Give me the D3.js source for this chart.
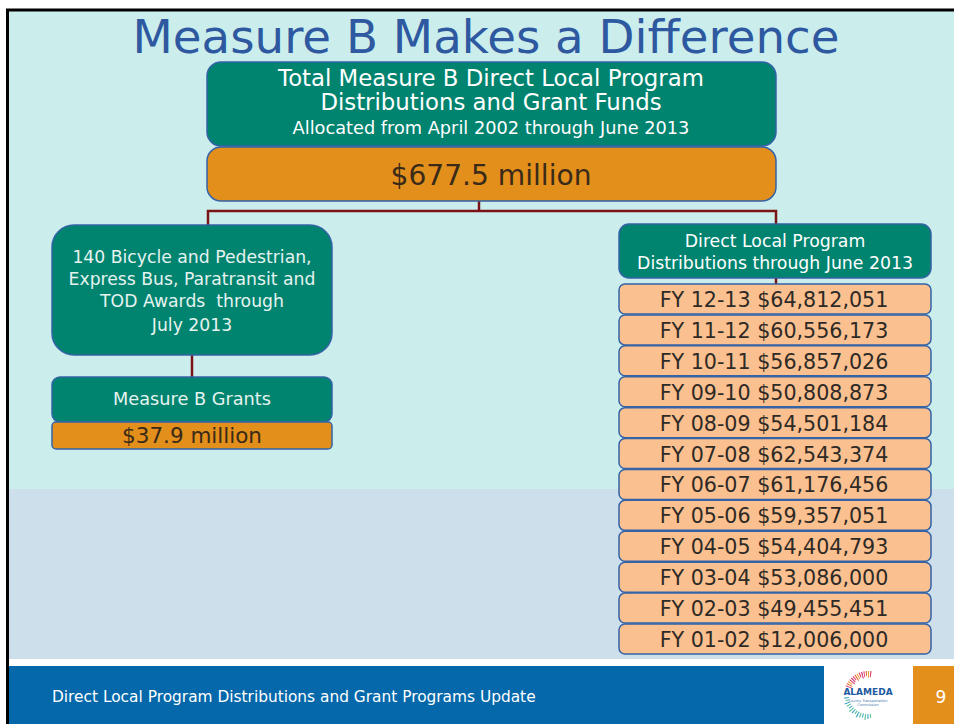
<!DOCTYPE html>
<html>
<head>
<meta charset="utf-8">
<script src="https://cdn.jsdelivr.net/npm/d3@7"></script>
<style>
  body { margin: 0; background: #fff; }
  svg { display: block; font-family: "DejaVu Sans", "Open Sans", sans-serif; }
  text { white-space: pre; }
</style>
</head>
<body>
<div id="chart"></div>
<script>
// Measure B slide: funding tree

const title = "Measure B Makes a Difference";
const topLines = ["Total Measure B Direct Local Program", "Distributions and Grant Funds"];
const topSub = "Allocated from April 2002 through June 2013";
const totalLabel = "$677.5 million";

const grantLines = ["140 Bicycle and Pedestrian,", "Express Bus, Paratransit and", "TOD Awards  through", "July 2013"];
const grantName = "Measure B Grants";
const grantTotal = "$37.9 million";

const distHeader = ["Direct Local Program", "Distributions through June 2013"];
const fiscalYears = ["FY 12-13", "FY 11-12", "FY 10-11", "FY 09-10", "FY 08-09", "FY 07-08",
                     "FY 06-07", "FY 05-06", "FY 04-05", "FY 03-04", "FY 02-03", "FY 01-02"];
const distributions = [64812051, 60556173, 56857026, 50808873, 54501184, 62543374,
                       61176456, 59357051, 54404793, 53086000, 49455451, 12006000];

const footerText = "Direct Local Program Distributions and Grant Programs Update";
const pageNumber = "9";

const width = 954, height = 724;
const teal = "#00836f", orange = "#e38f1c", peach = "#fbc08f", edge = "#3563a6";
const wire = "#7a1416";
const money = d3.format("$,");

const svg = d3.select("#chart").append("svg")
  .attr("width", width)
  .attr("height", height);

// slide background
svg.append("rect").attr("x", 9).attr("y", 11).attr("width", width - 9).attr("height", 478).attr("fill", "#cbeeed");
svg.append("rect").attr("x", 9).attr("y", 489).attr("width", width - 9).attr("height", 170).attr("fill", "#cddfeb");
svg.append("rect").attr("x", 9).attr("y", 659).attr("width", width - 9).attr("height", 7).attr("fill", "#fff");
svg.append("rect").attr("x", 9).attr("y", 666).attr("width", 815).attr("height", 58).attr("fill", "#0468aa");
svg.append("rect").attr("x", 913).attr("y", 666).attr("width", 41).attr("height", 58).attr("fill", orange);
// black frame
svg.append("path")
  .attr("d", "M7.5,724 V10 H954")
  .attr("fill", "none").attr("stroke", "#000").attr("stroke-width", 3);

// scale a group of texts together so the widest spans w
function fit(sel, w) {
  let widest = 0;
  sel.each(function() { widest = Math.max(widest, this.getComputedTextLength()); });
  const k = w / widest;
  sel.attr("font-size", function() { return parseFloat(d3.select(this).attr("font-size")) * k; });
  return sel;
}

function block(g, x, ys, lines, size, color, w) {
  const t = g.selectAll(null)
    .data(lines)
    .join("text")
      .attr("x", x)
      .attr("y", (d, i) => ys[i])
      .attr("text-anchor", "middle")
      .attr("font-size", size)
      .attr("fill", color)
      .text(d => d);
  if (w) fit(t, w);
  return t;
}

function box(x, y, w, h, r, fill) {
  return svg.append("rect")
    .attr("x", x).attr("y", y).attr("width", w).attr("height", h)
    .attr("rx", r).attr("fill", fill)
    .attr("stroke", edge).attr("stroke-width", 1.5);
}

// title
block(svg, 486, [53], [title], 40, "#2e59a0", 707);

// connectors
const lines = svg.append("g").attr("stroke", wire).attr("stroke-width", 2.5).attr("fill", "none");
lines.append("path").attr("d", "M479,200 V211 M208,226 V211 H776 V226");
lines.append("path").attr("d", "M192,354 V378");
lines.append("path").attr("d", "M776,277 V286");

// top box
box(207, 62, 569, 84, 14, teal);
box(207, 147, 569, 54, 14, orange);
block(svg, 491, [86, 110], topLines, 20, "#fff", 426);
block(svg, 491, [134], [topSub], 15, "#fff", 397);
block(svg, 491, [185], [totalLabel], 28, "#3a2a18", 201);

// left branch
box(52, 225, 280, 130, 22, teal);
block(svg, 192, [263, 285, 307, 331], grantLines, 16, "#e6f3ef", 247);
box(52, 377, 280, 45, 8, teal);
block(svg, 192, [405], [grantName], 16, "#e6f3ef", 158);
box(52, 422, 280, 27, 4, orange);
block(svg, 192, [443], [grantTotal], 20, "#3a2a18", 140);

// right branch
box(619, 224, 312, 54, 10, teal);
block(svg, 775, [247, 269], distHeader, 16, "#fff", 276);

const y = d3.scaleBand()
  .domain(fiscalYears)
  .range([284, 654])
  .paddingInner(0.03);

const rows = svg.append("g").selectAll("g")
  .data(fiscalYears.map((fy, i) => ({fy, v: distributions[i]})))
  .join("g")
    .attr("transform", d => `translate(0,${y(d.fy)})`);

rows.append("rect")
  .attr("x", 619).attr("width", 312)
  .attr("height", y.bandwidth())
  .attr("rx", 6)
  .attr("fill", peach)
  .attr("stroke", edge).attr("stroke-width", 1.5);

rows.append("text")
  .attr("x", 774)
  .attr("y", y.bandwidth() / 2 + 8)
  .attr("text-anchor", "middle")
  .attr("font-size", 20)
  .attr("fill", "#2e2a26")
  .text(d => `${d.fy} ${money(d.v)}`)
  .call(fit, 229);

// footer
svg.append("text")
  .attr("x", 52).attr("y", 702)
  .attr("font-size", 14)
  .attr("fill", "#fff")
  .text(footerText)
  .call(fit, 484);
svg.append("text")
  .attr("x", 941).attr("y", 703)
  .attr("text-anchor", "middle")
  .attr("font-size", 17)
  .attr("fill", "#fff")
  .text(pageNumber);

// logo (rough)
const logo = svg.append("g").attr("transform", "translate(868,695)");
const arc = d3.arc();
const warm = ["#e0447a", "#e86a3a", "#f0a030", "#d83a6a", "#c8306a"];
d3.range(14).forEach(i => {
  const a0 = -1.2 + i * 0.1;
  logo.append("path")
    .attr("d", arc({innerRadius: 17 + (i % 3), outerRadius: 24, startAngle: a0, endAngle: a0 + 0.05}))
    .attr("fill", warm[i % warm.length]);
});
d3.range(14).forEach(i => {
  const a0 = 3.0 + i * 0.12;
  logo.append("path")
    .attr("d", arc({innerRadius: 19, outerRadius: 23 + (i % 3), startAngle: a0, endAngle: a0 + 0.05}))
    .attr("fill", i % 2 ? "#3aa8c8" : "#5cbf9a");
});
logo.append("text")
  .attr("y", 0).attr("text-anchor", "middle")
  .attr("font-size", 9).attr("font-weight", "bold")
  .attr("fill", "#1d5aa0").text("ALAMEDA");
logo.append("text")
  .attr("y", 7).attr("text-anchor", "middle")
  .attr("font-size", 3.5).attr("fill", "#4a7ab0").text("County Transportation");
logo.append("text")
  .attr("y", 11).attr("text-anchor", "middle")
  .attr("font-size", 3.5).attr("fill", "#4a7ab0").text("Commission");
</script>
</body>
</html>
